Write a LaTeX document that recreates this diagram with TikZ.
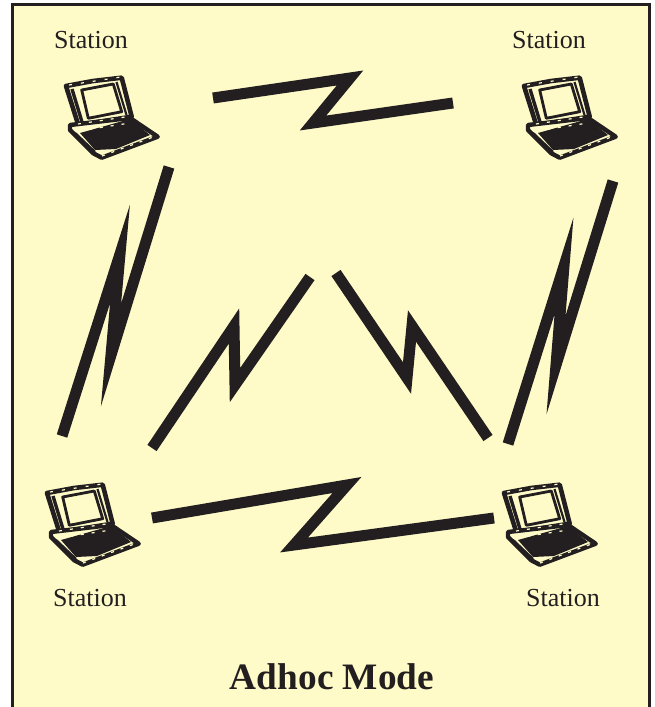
\documentclass[tikz,border=0pt]{standalone}
\usepackage{fontspec}
\setmainfont{Liberation Serif}
\definecolor{paper}{HTML}{FEFBC8}
\definecolor{ink}{HTML}{231F20}
\tikzset{
    stationlabel/.style={text=ink,inner sep=0pt,font=\fontsize{26}{30}\selectfont},
    titlelabel/.style={text=ink,inner sep=0pt,font=\bfseries\fontsize{37.3}{42}\selectfont},
    bolt/.style={draw=ink,line width=11,miter limit=30,line join=miter},
    frameline/.style={draw=ink,line width=3},
    laptop/.pic={
        % lid
        \draw[ink,fill=paper,line width=4.6,line join=round] (0,0) -- (27,-5) -- (55.7,-8.3) -- (65.7,30.7) -- (12.3,39) -- cycle;
        \draw[ink,line width=2.8,line join=round] (15.7,4) -- (47.3,-2) -- (55.7,25.7) -- (22.3,32.3) -- cycle;
        \draw[ink,line width=2.2] (50.5,-4) -- (60.5,29);
        \draw[ink,line width=3.4] (6,3) -- (16,36);
        % base
        \draw[ink,fill=paper,line width=4.4,line join=round] (4,39) -- (64,32) -- (91.7,50.7) -- (35.7,71.7) -- (27.3,67.3) -- (4,44) -- cycle;
        \fill[ink] (14,47) -- (64,33) -- (84,49) -- (50,63) -- (29,64) -- cycle;
        \draw[ink,line width=2.4] (9,47) -- (29,66);
        % beads along the edges
        \draw[paper,line width=1.2,dash pattern=on 3 off 8] (12,38) -- (65.7,30);
        \draw[paper,line width=1.2,dash pattern=on 3 off 9] (3,-1) -- (55,-9);
        \draw[paper,line width=1.2,dash pattern=on 3 off 8] (12,45) -- (64,37);
        \draw[paper,line width=1.2,dash pattern=on 3 off 7] (36,70) -- (90,50);
    }
}
\begin{document}
\begin{tikzpicture}[x=1pt,y=-1pt]
    \useasboundingbox (0,0) rectangle (655,707);

    \fill[paper] (12,4) rectangle (650,707);
    \draw[frameline] (12.5,707) -- (12.5,4.5) -- (649.5,4.5) -- (649.5,707);

    \pic at (66,86) {laptop};
    \pic at (524,86) {laptop};
    \pic at (47,493) {laptop};
    \pic at (504,493) {laptop};

    \node[stationlabel] (stationTL) at (91,40) {Station};
    \node[stationlabel] (stationTR) at (549,40) {Station};
    \node[stationlabel] (stationBL) at (90,598) {Station};
    \node[stationlabel] (stationBR) at (563,598) {Station};

    \coordinate (topA) at (213,98);
    \coordinate (topB) at (453,103);
    \coordinate (leftA) at (62,436);
    \coordinate (leftB) at (169,167);
    \coordinate (rightA) at (508,444);
    \coordinate (rightB) at (613,181);
    \coordinate (midlA) at (152,448);
    \coordinate (midlB) at (310,277);
    \coordinate (midrA) at (336,273);
    \coordinate (midrB) at (488,438);
    \coordinate (lowA) at (152,518);
    \coordinate (lowB) at (494,518);

    \draw[bolt] (topA) -- (350,78) -- (313,123) -- (topB);
    \draw[bolt] (leftA) -- (120,254) -- (111,355) -- (leftB);
    \draw[bolt] (rightA) -- (564,266) -- (556,365) -- (rightB);
    \draw[bolt] (midlA) -- (234,326) -- (235,385) -- (midlB);
    \draw[bolt] (midrA) -- (407,378) -- (412,326) -- (midrB);
    \draw[bolt] (lowA) -- (347,485) -- (294,545) -- (lowB);

    \node[titlelabel] (title) at (332,677) {Adhoc Mode};
\end{tikzpicture}
\end{document}
